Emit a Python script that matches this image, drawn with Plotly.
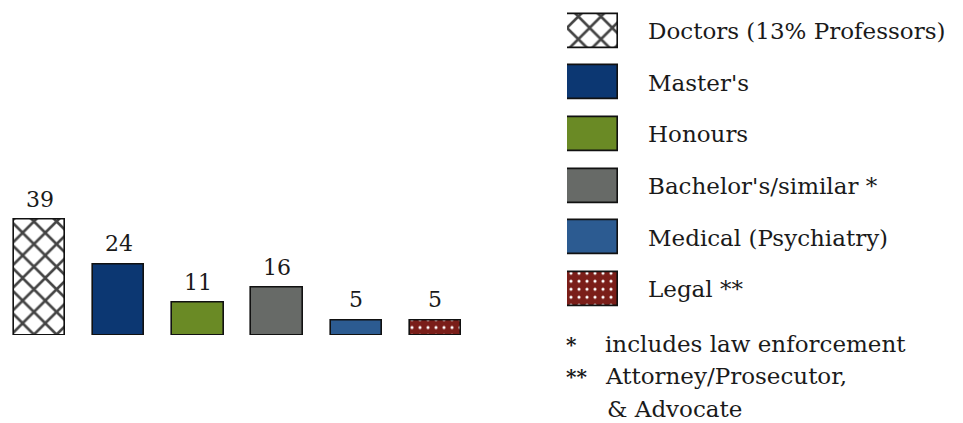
import plotly.graph_objects as go

# Qualification breakdown (percent of respondents)
categories = ["Doctors (13% Professors)", "Master's", "Honours",
              "Bachelor's/similar *", "Medical (Psychiatry)", "Legal **"]
values = [39, 24, 11, 16, 5, 5]
swatch_len = [1, 1, 1, 1, 1, 1]

colors = ["#ffffff", "#0c3772", "#6a8a25", "#676a67", "#2c5b91", "#7a1e19"]
pattern_shapes = ["x", "", "", "", "", "."]
pattern_fg = ["#000000", "#000000", "#000000", "#000000", "#000000", "#e8bfb0"]
pattern_size = [16, 8, 8, 8, 8, 8]
pattern_solidity = [0.3, 0.2, 0.2, 0.2, 0.2, 0.12]

footnotes = [
    ("*", "includes law enforcement"),
    ("**", "Attorney/Prosecutor,"),
    ("", "& Advocate"),
]

FONT = "DejaVu Serif"
W, H = 963, 423

marker = dict(
    color=colors,
    line=dict(color="#111111", width=1.6),
    pattern=dict(shape=pattern_shapes, fgcolor=pattern_fg, fgopacity=1,
                 size=pattern_size, solidity=pattern_solidity,
                 fillmode="overlay"),
)

fig = go.Figure()

# main bars
fig.add_trace(go.Bar(
    x=categories, y=values, width=0.65, marker=marker,
    xaxis="x", yaxis="y", hoverinfo="x+y",
))

# legend key drawn as a small horizontal bar panel
fig.add_trace(go.Bar(
    x=swatch_len, y=categories, orientation="h", width=0.66,
    marker=marker, xaxis="x2", yaxis="y2", hoverinfo="y",
))

annotations = []
for c, v in zip(categories, values):
    annotations.append(dict(
        x=c, y=v, xref="x", yref="y", text=str(v), showarrow=False,
        yanchor="bottom", yshift=6,
        font=dict(family=FONT, size=22, color="#1a1a1a"),
    ))

# footnotes under the key
base_y = 351.5
for i, (mark, text) in enumerate(footnotes):
    y_px = base_y + i * 32.5
    y_paper = (H - y_px) / H
    if mark:
        annotations.append(dict(
            x=564 / W, y=y_paper, xref="paper", yref="paper",
            text="<b>" + mark + "</b>",
            showarrow=False, xanchor="left", yanchor="bottom", yshift=-7,
            font=dict(family=FONT, size=20, color="#1a1a1a"),
        ))
    annotations.append(dict(
        x=(603 if mark else 605) / W, y=y_paper, xref="paper", yref="paper",
        text=text, showarrow=False, xanchor="left", yanchor="bottom",
        yshift=-7,
        font=dict(family=FONT, size=23, color="#1a1a1a"),
    ))

fig.update_layout(
    width=W, height=H,
    margin=dict(l=0, r=0, t=0, b=0),
    paper_bgcolor="#ffffff", plot_bgcolor="#ffffff",
    showlegend=False, bargap=0,
    font=dict(family=FONT, color="#1a1a1a"),
    xaxis=dict(domain=[0, 475 / W], range=[-0.5, 5.5], visible=False,
               fixedrange=True),
    yaxis=dict(domain=[88 / H, (H - 187.5) / H], range=[0, 50],
               visible=False, fixedrange=True),
    xaxis2=dict(domain=[567 / W, 618 / W], range=[0, 1], anchor="y2",
                visible=False, fixedrange=True),
    yaxis2=dict(domain=[(H - 315) / H, (H - 5.2) / H], anchor="x2",
                side="right", autorange="reversed", showgrid=False,
                showline=False, zeroline=False, ticks="",
                ticklabelstandoff=29,
                tickfont=dict(family=FONT, size=23, color="#1a1a1a"),
                fixedrange=True),
    annotations=annotations,
)

fig.write_html("out.html")
